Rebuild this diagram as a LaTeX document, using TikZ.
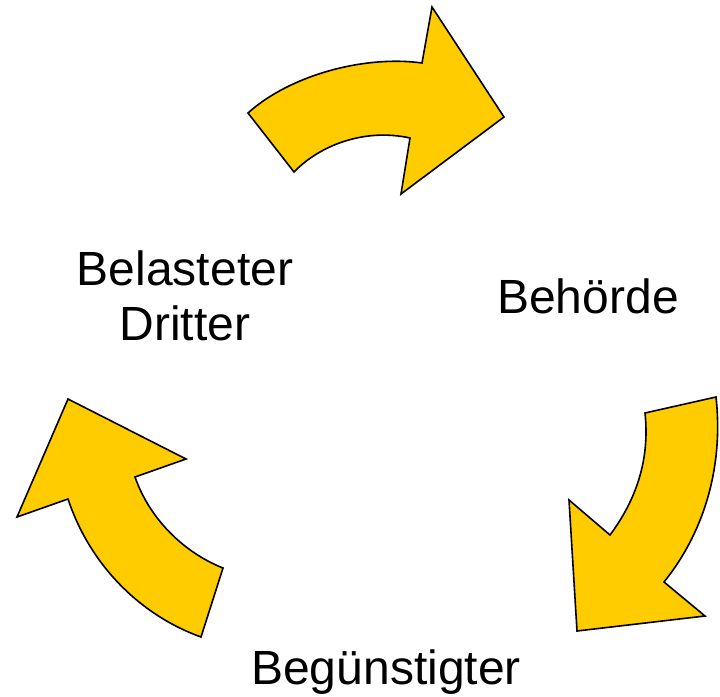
\documentclass[tikz,border=0pt]{standalone}
\usepackage{fontspec}
\setmainfont{Liberation Sans}
\definecolor{arrowyellow}{HTML}{FFCC00}
\begin{document}
\begin{tikzpicture}[x=1pt,y=-1pt,
  curvearrow/.style={fill=arrowyellow,draw=black,line width=1.6pt,line join=miter},
  lbl/.style={font=\fontsize{48}{55}\selectfont,inner sep=0pt,anchor=base,align=center}]
\useasboundingbox (0,0) rectangle (720,696);
% top arrow
\draw[curvearrow] (248,113) .. controls (290,75) and (365,55) .. (422,63)
  -- (432,7) -- (504,117) -- (401,194) -- (410,138)
  .. controls (365,128) and (320,145) .. (294,172) -- cycle;
% right arrow
\draw[curvearrow] (716,397) .. controls (724,470) and (702,535) .. (664,582)
  -- (705,616) -- (577,631) -- (569,500) -- (610,535)
  .. controls (636,500) and (650,460) .. (645,413) -- cycle;
% left arrow
\draw[curvearrow] (201,637) .. controls (140,615) and (90,565) .. (68,499)
  -- (17,517) -- (68,399) -- (186,459) -- (135,477)
  .. controls (150,520) and (185,553) .. (223,568) -- cycle;
\node[lbl] (bel) at (185,285) {Belasteter};
\node[lbl] (dri) at (185,340) {Dritter};
\node[lbl] (beh) at (588,313) {Behörde};
\node[lbl] (beg) at (386,684) {Begünstigter};
\end{tikzpicture}
\end{document}
